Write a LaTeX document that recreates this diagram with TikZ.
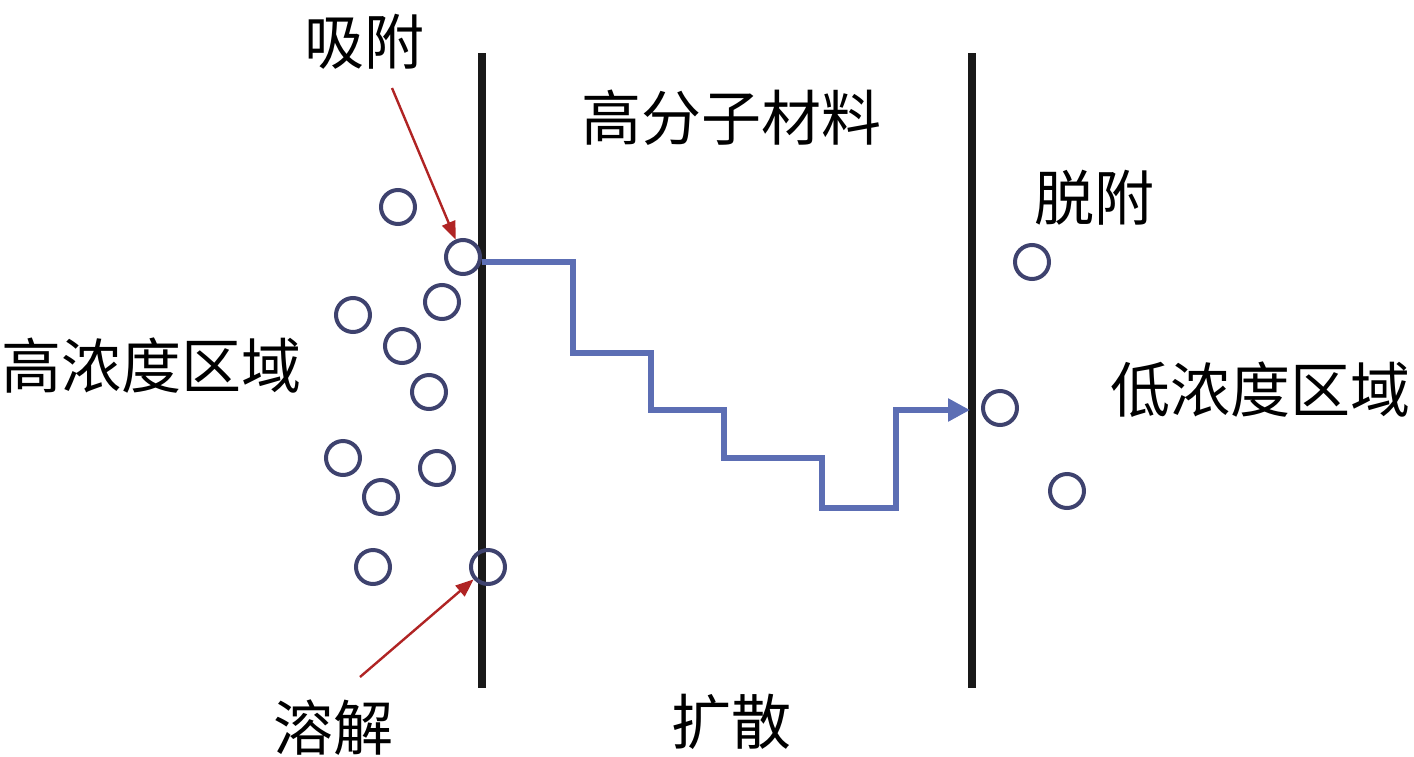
\documentclass[tikz,border=0pt]{standalone}
\usepackage{fontspec}
\setmainfont{Noto Sans CJK SC}
\usetikzlibrary{arrows.meta}
\definecolor{molblue}{RGB}{62,66,110}
\definecolor{routeblue}{RGB}{92,110,180}
\definecolor{hintred}{RGB}{176,36,36}

\begin{document}
\begin{tikzpicture}[x=0.5pt,y=-0.5pt]
	\tikzstyle{mol}=[circle,draw=molblue,line width=2pt,minimum size=17pt,inner sep=0pt]
	\tikzstyle{word}=[font=\fontsize{30}{36}\selectfont,inner sep=0pt]
	\tikzstyle{wall}=[line width=4pt,black!90]
	\tikzstyle{hint}=[hintred,line width=1.2pt,-{Triangle[length=9pt,width=7pt]}]
	\tikzstyle{route}=[routeblue,line width=3pt,-{Triangle[length=11pt,width=11pt]}]
	\useasboundingbox (0,0) rectangle (1414,756);
	% membrane walls
	\coordinate (lt) at (482,53);
	\coordinate (lb) at (482,688);
	\coordinate (rt) at (972,53);
	\coordinate (rb) at (972,688);
	\draw[wall] (lt) -- (lb);
	\draw[wall] (rt) -- (rb);
	% molecules
	\foreach \x/\y [count=\i] in {398/207,463/257,442/302,353/315,402/346,429/392,343/458,437/468,381/497,373/567,488/567,1032/262,1000/408,1067/491}
		\node[mol] (m\i) at (\x,\y) {};
	% labels
	\node[word] (sorb) at (364,42) {吸附};
	\node[word] (poly) at (731,118) {高分子材料};
	\node[word] (desorb) at (1094,198) {脱附};
	\node[word] (high) at (152,366) {高浓度区域};
	\node[word] (low) at (1260,390) {低浓度区域};
	\node[word] (diss) at (333,728) {溶解};
	\node[word] (diff) at (731,722) {扩散};
	% arrows
	\coordinate (sorbtail) at (392,88);
	\coordinate (disstail) at (360,677);
	\draw[hint] (sorbtail) -- (m2);
	\draw[hint] (disstail) -- (m11);
	\coordinate (in) at (482,262);
	\coordinate (out) at (970,410);
	\draw[route] (in) -| (573,353) -| (651,410) -| (724,458) -| (822,508) -| (896,410) -- (out);
\end{tikzpicture}
\end{document}
